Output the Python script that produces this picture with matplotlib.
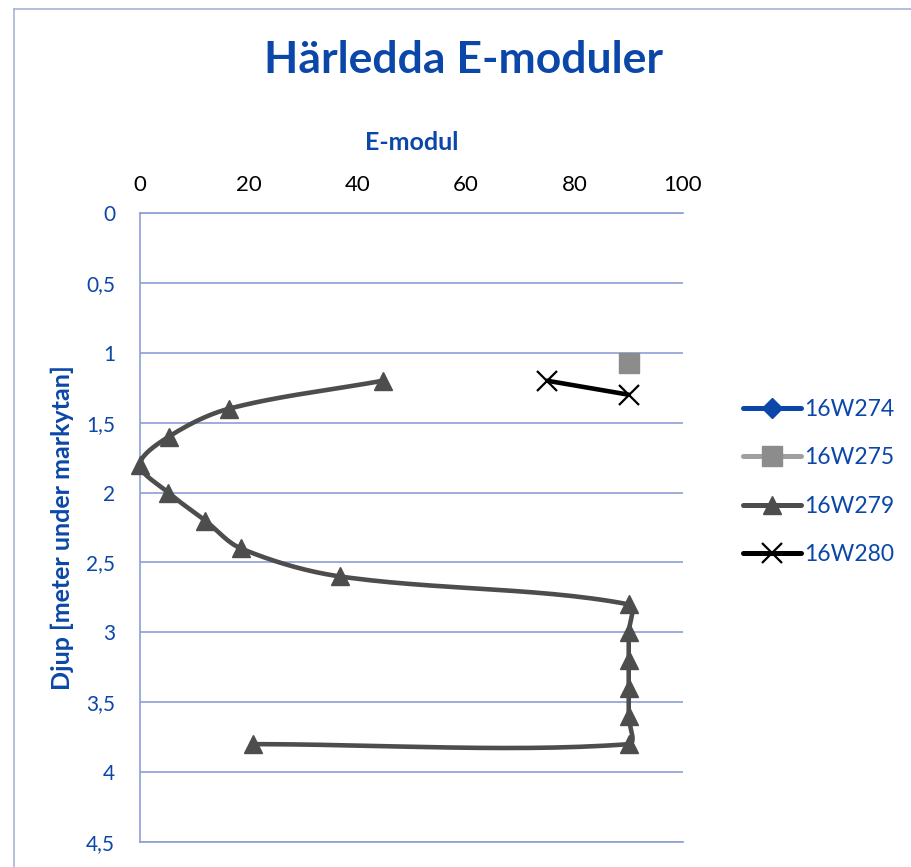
import numpy as np
import matplotlib
matplotlib.use('Agg')
import matplotlib.pyplot as plt
from matplotlib.lines import Line2D

# ---- data ----
series_names = ['16W274', '16W275', '16W279', '16W280']
x_274 = [90.0]
y_274 = [1.07]
x_275 = [90.0]
y_275 = [1.07]
x_279 = [44.7, 16.4, 5.3, 0.0, 5.2, 12.0, 18.6, 36.8, 90.0, 90.0, 90.0, 90.0, 90.0, 90.0, 20.8]
y_279 = [1.2, 1.4, 1.6, 1.8, 2.0, 2.2, 2.4, 2.6, 2.8, 3.0, 3.2, 3.4, 3.6, 3.8, 3.8]
x_280 = [75.0, 90.0]
y_280 = [1.2, 1.3]
x_ticks = [0, 20, 40, 60, 80, 100]
y_ticks = [0, 0.5, 1, 1.5, 2, 2.5, 3, 3.5, 4, 4.5]
y_tick_labels = ['0', '0,5', '1', '1,5', '2', '2,5', '3', '3,5', '4', '4,5']

plt.rcParams['font.family'] = ['Lato', 'DejaVu Sans']

BLUE = '#0B47A8'
GRID = '#8E9ED6'
W, H = 911, 867
fig = plt.figure(figsize=(W / 100, H / 100), dpi=100)
ax = fig.add_axes([140 / W, 1 - 842 / H, (683 - 140) / W, (842 - 213) / H])
ax.set_xlim(0, 100)
ax.set_ylim(4.5, 0)

# outer chart-area border
fig.add_artist(Line2D([14 / W, 14 / W], [0, 1 - 9 / H], color='#A9B3D9', lw=1.2))
fig.add_artist(Line2D([14 / W, 1], [1 - 9 / H, 1 - 9 / H], color='#A9B3D9', lw=1.2))


def smooth(xs, ys, n=30):
    """Excel-like smoothed line through the data points (computed in display space)."""
    pts = ax.transData.transform(np.column_stack([xs, ys]))
    if len(pts) < 3:
        return xs, ys
    out = []
    m = len(pts)
    for i in range(m - 1):
        p1, p2 = pts[i], pts[i + 1]
        p0 = pts[i - 1] if i > 0 else p1
        p3 = pts[i + 2] if i + 2 < m else p2
        d01 = np.linalg.norm(p1 - p0)
        d12 = np.linalg.norm(p2 - p1)
        d23 = np.linalg.norm(p3 - p2)
        if i > 0:
            c1 = p1 + (p2 - p0) * d12 / (d01 + d12) / 3
        else:
            c1 = p1 + (p2 - p1) / 3
        if i + 2 < m:
            c2 = p2 - (p3 - p1) * d12 / (d12 + d23) / 3
        else:
            c2 = p2 - (p2 - p1) / 3
        t = np.linspace(0, 1, n)[:, None]
        b = (1 - t) ** 3 * p1 + 3 * (1 - t) ** 2 * t * c1 + 3 * (1 - t) * t ** 2 * c2 + t ** 3 * p2
        out.append(b if i == 0 else b[1:])
    seg = np.vstack(out)
    data = ax.transData.inverted().transform(seg)
    return data[:, 0], data[:, 1]


styles = {
    '16W274': dict(color=BLUE, marker='D', ms=10, mfc=BLUE, mec=BLUE),
    '16W275': dict(color='#A0A0A0', marker='s', ms=14, mfc='#8C8C8C', mec='#8C8C8C'),
    '16W279': dict(color='#4D4D4D', marker='^', ms=13, mfc='#4D4D4D', mec='#4D4D4D'),
    '16W280': dict(color='black', marker='x', ms=14, mfc='black', mec='black', mew=1.6),
}
data = {'16W274': (x_274, y_274), '16W275': (x_275, y_275),
        '16W279': (x_279, y_279), '16W280': (x_280, y_280)}

handles = []
for z, name in enumerate(series_names):
    xs, ys = data[name]
    st = styles[name]
    sx, sy = smooth(xs, ys)
    ax.plot(sx, sy, color=st['color'], lw=3.3, solid_capstyle='round', zorder=3 + z)
    ax.plot(xs, ys, ls='none', marker=st['marker'], ms=st['ms'], mfc=st['mfc'],
            mec=st['mec'], mew=st.get('mew', 1), zorder=3 + z, clip_on=False)
    handles.append(Line2D([], [], color=st['color'], lw=3.6, solid_capstyle='round',
                          marker=st['marker'], ms=st['ms'], mfc=st['mfc'], mec=st['mec'],
                          mew=st.get('mew', 1)))

# axes styling
ax.xaxis.tick_top()
ax.xaxis.set_label_position('top')
ax.set_xticks(x_ticks)
ax.set_xticklabels([str(v) for v in x_ticks])
ax.set_yticks(y_ticks)
ax.set_yticklabels(y_tick_labels)
ax.tick_params(axis='x', length=0, pad=13, labelsize=16, labelcolor='black')
ax.tick_params(axis='y', length=0, pad=18, labelsize=15, labelcolor=BLUE)
ax.grid(axis='y', color=GRID, lw=1.2)
ax.set_axisbelow(True)
for s in ['right', 'bottom', 'top']:
    ax.spines[s].set_visible(False)
ax.spines['left'].set_color(GRID)
ax.spines['left'].set_linewidth(1.2)
for yv in (0, 4.5):
    ax.axhline(yv, color=GRID, lw=1.2, clip_on=False, zorder=1)

ax.set_xlabel('E-modul', fontsize=18, fontweight='bold', color=BLUE)
ax.xaxis.set_label_coords(0.5, 1 + (213 - 142) / 629)
ax.xaxis.label.set_verticalalignment('center')
ax.set_ylabel('Djup [meter under markytan]', fontsize=18, fontweight='bold', color=BLUE)
ax.yaxis.set_label_coords((62 - 140) / 543, 0.5)
ax.yaxis.label.set_verticalalignment('center')

fig.text(464 / W, 1 - 60 / H, 'Härledda E-moduler', ha='center', va='center',
         fontsize=32, fontweight='bold', color=BLUE)

leg = fig.legend(handles, series_names, loc='center left',
                 bbox_to_anchor=(722 / W, 1 - 482 / H), frameon=False,
                 fontsize=16.5, handlelength=2.55, handletextpad=0.15, labelspacing=1.2)
for t in leg.get_texts():
    t.set_color(BLUE)

fig.savefig('out.png', dpi=100)
